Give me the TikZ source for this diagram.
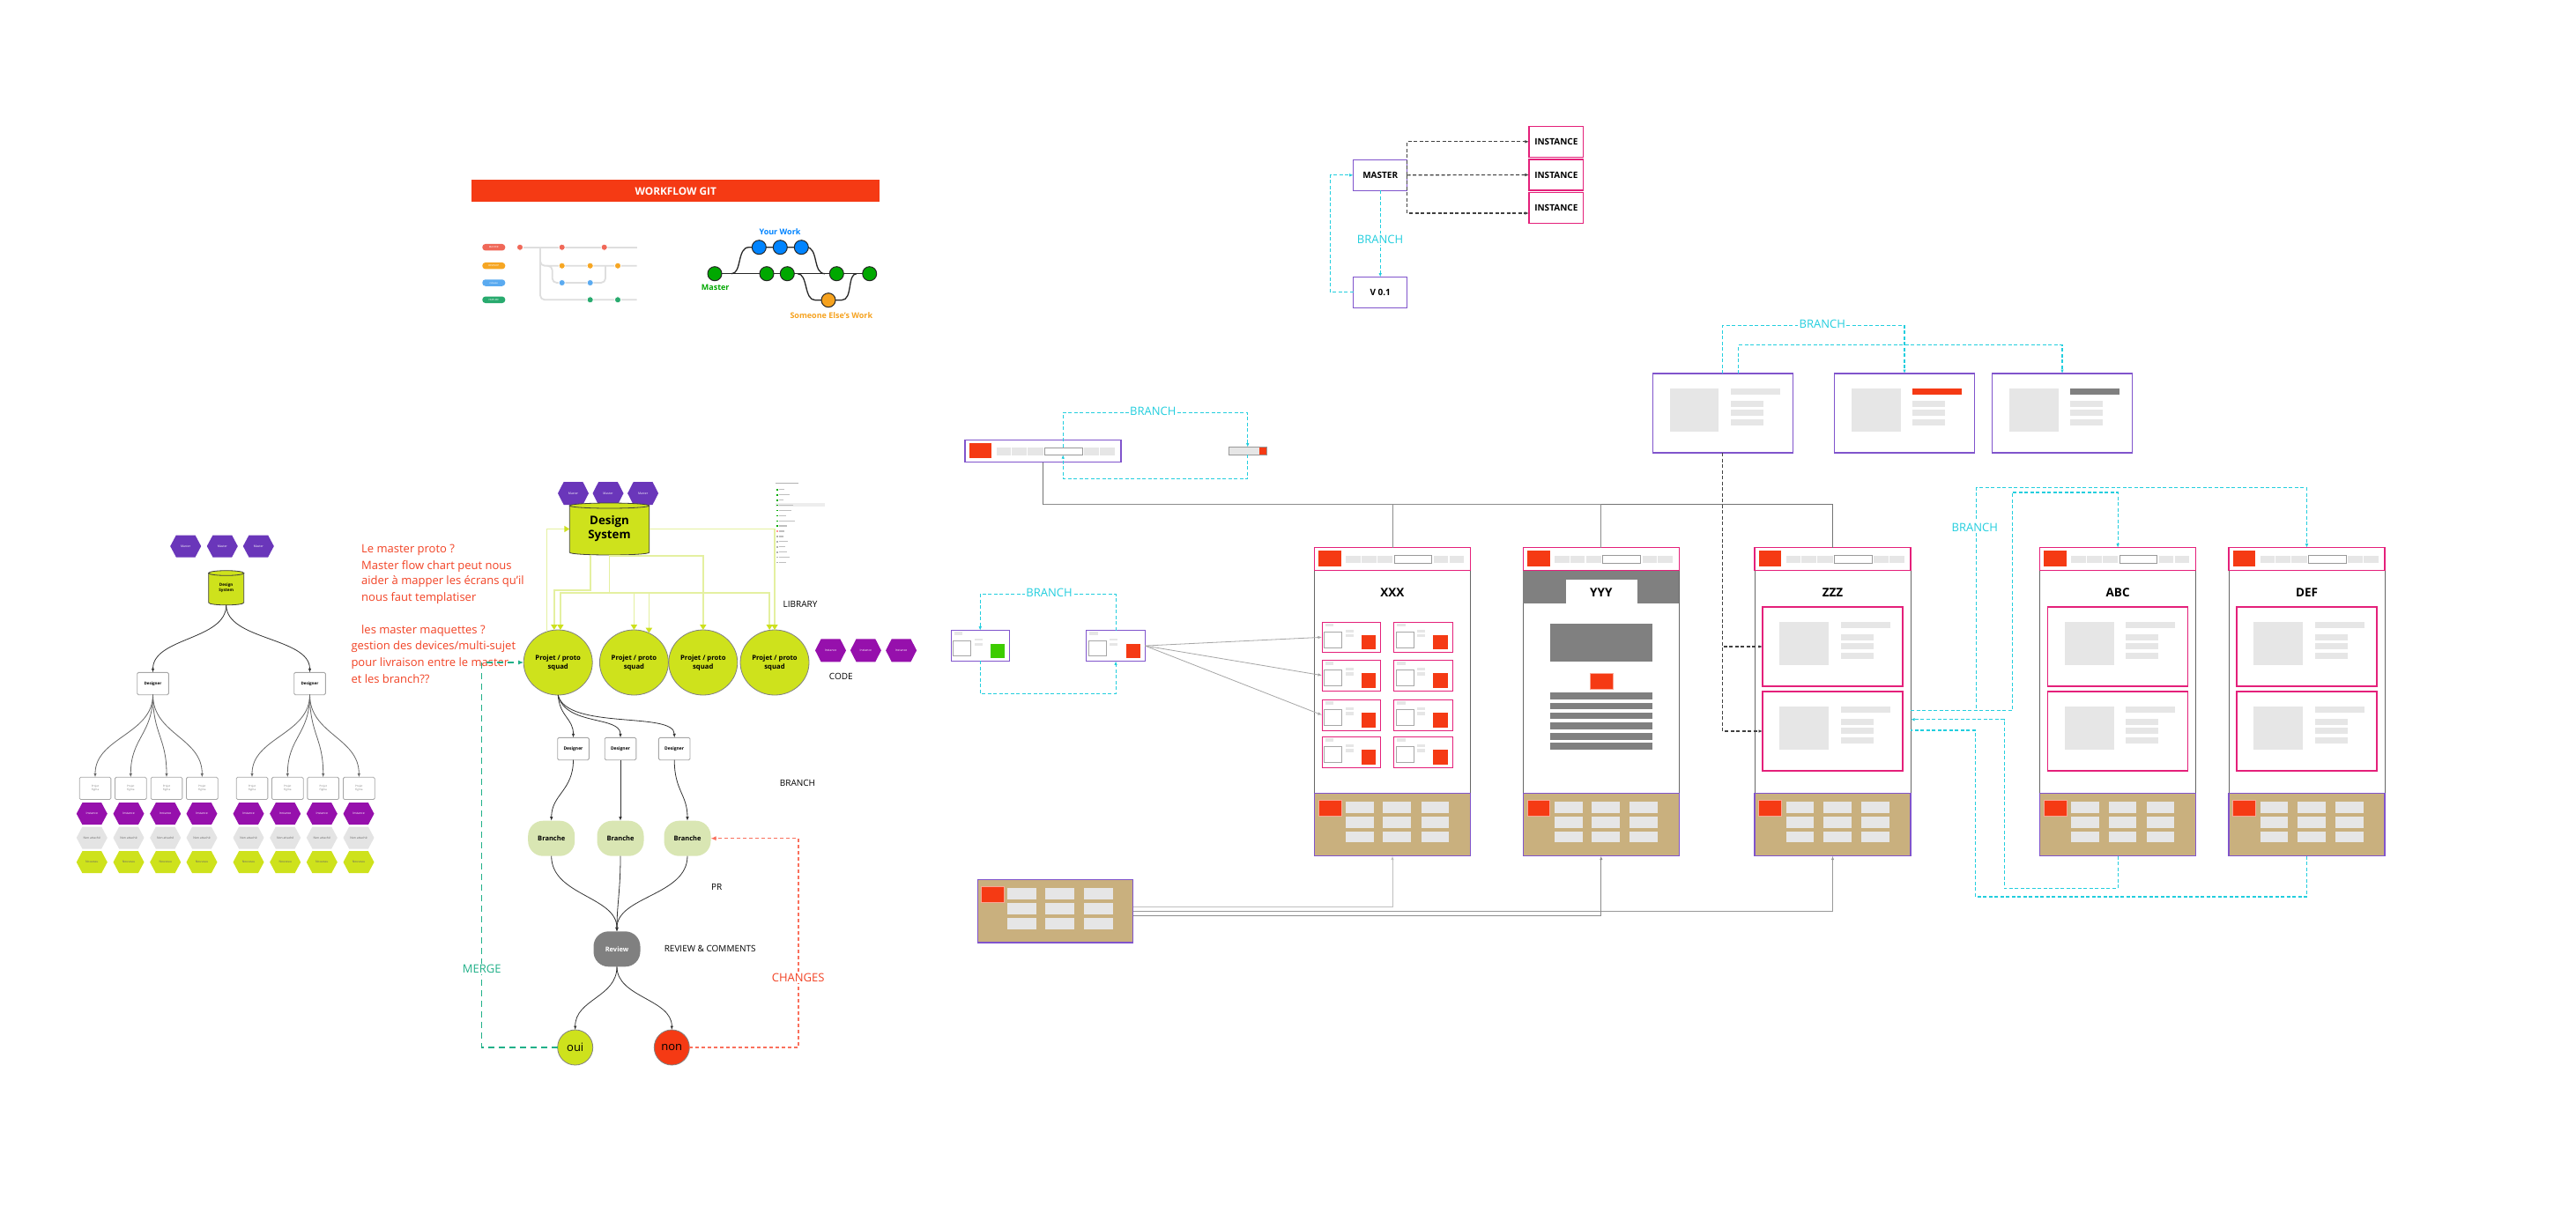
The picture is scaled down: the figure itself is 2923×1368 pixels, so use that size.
\documentclass[tikz,border=0pt]{standalone}
\usepackage{fontspec}
\setmainfont{Open Sans}
\usetikzlibrary{arrows.meta,shapes.geometric,calc}
\definecolor{dsg}{RGB}{206,226,28}
\definecolor{hexa}{RGB}{106,54,186}
\definecolor{hexb}{RGB}{150,16,172}
\definecolor{hexg}{RGB}{228,228,228}
\definecolor{redc}{RGB}{245,58,20}
\definecolor{redtxt}{RGB}{242,66,36}
\definecolor{cyanl}{RGB}{34,206,222}
\definecolor{mergeg}{RGB}{32,176,136}
\definecolor{changer}{RGB}{250,112,92}
\definecolor{pinkc}{RGB}{228,32,122}
\definecolor{purpc}{RGB}{128,84,204}
\definecolor{tanc}{RGB}{201,176,126}
\definecolor{lgc}{RGB}{230,230,230}
\definecolor{dgc}{RGB}{128,128,128}
\definecolor{brg}{RGB}{217,230,179}
\definecolor{lineg}{RGB}{228,240,160}
\definecolor{arrg}{RGB}{205,225,30}
\definecolor{gitgray}{RGB}{222,222,222}
\definecolor{gred}{RGB}{240,104,88}
\definecolor{gorange}{RGB}{246,166,35}
\definecolor{gblue}{RGB}{90,170,240}
\definecolor{ggreen}{RGB}{40,170,110}
\definecolor{mgreen}{RGB}{0,168,0}
\definecolor{mblue}{RGB}{0,132,255}
\definecolor{morange}{RGB}{246,162,30}
\definecolor{libg}{RGB}{0,170,0}
\definecolor{libp}{RGB}{255,150,150}
\definecolor{libk}{RGB}{175,175,175}

\newcommand\fsz[2]{\fontsize{#1}{#2}\selectfont}
% hexagon: name, x, y, w, h, fill, text
\newcommand\hexshape[7]{%
  \fill[#6] ({#2-#4/2},#3) -- ({#2-0.31*#4},{#3-#5/2}) -- ({#2+0.31*#4},{#3-#5/2}) -- ({#2+#4/2},#3) -- ({#2+0.31*#4},{#3+#5/2}) -- ({#2-0.31*#4},{#3+#5/2}) -- cycle;
  \node[hextxt] (#1) at (#2,#3) {#7};}
% cylinder: name, cx, top, bot, hw, ry, fontsize, skip, text
\newcommand\cylshape[9]{%
  \filldraw[fill=dsg, draw=black!75, line width=0.8pt] ({#2-#5},#3) -- ({#2-#5},#4) .. controls ({#2-#5},{#4+1.33*#6}) and ({#2+#5},{#4+1.33*#6}) .. ({#2+#5},#4) -- ({#2+#5},#3) -- cycle;
  \filldraw[fill=dsg, draw=black!75, line width=0.8pt] (#2,#3) ellipse [x radius=#5, y radius=#6];
  \node[inner sep=0, outer sep=0, minimum width={2*#5}, minimum height={#4-#3+2*#6}, font=\bfseries\fsz{#7}{#8}, align=center] (#1) at (#2,{(#3+#4)/2}) {#9};}
% screen header strip: x0, y0, border colour
\newcommand\hdr[3]{%
  \filldraw[fill=white, draw=#3, line width=1.1pt] (#1,#2) rectangle ++(177,25.6);
  \fill[redc] ({#1+4.7},{#2+3.6}) rectangle ++(25.7,17.4);
  \fill[lgc] ({#1+35.6},{#2+9}) rectangle ++(16.6,8.3);
  \fill[lgc] ({#1+53.4},{#2+9}) rectangle ++(16.6,8.3);
  \fill[lgc] ({#1+71.2},{#2+9}) rectangle ++(17.6,8.3);
  \filldraw[fill=white, draw=black!40, line width=0.9pt] ({#1+90.5},{#2+9}) rectangle ++(42.7,8.3);
  \fill[lgc] ({#1+135.2},{#2+9}) rectangle ++(16.6,8.3);
  \fill[lgc] ({#1+153},{#2+9}) rectangle ++(16.6,8.3);}
% screen footer: x0, y0
\newcommand\ftr[2]{%
  \filldraw[fill=tanc, draw=purpc, line width=1.1pt] (#1,#2) rectangle ++(177,71);
  \filldraw[fill=redc, draw=redc!45, line width=0.6pt] ({#1+4.7},{#2+8}) rectangle ++(25.7,18);
  \foreach \ddx in {35.6,77.9,121}{\foreach \ddy in {9.6,26.6,43.3}{\fill[lgc] ({#1+\ddx},{#2+\ddy}) rectangle ++(31.6,12.3);}}}
% screen: name, x0
\newcommand\screen[2]{%
  \node[draw=black!60, line width=0.9pt, fill=white, minimum width=177pt, minimum height=350pt, inner sep=0, outer sep=0, anchor=north west] (#1) at (#2,621.7) {};}
% big card: name, x, y, border, bar colour
\newcommand\bcard[5]{%
  \node[draw=#4, line width=1.1pt, fill=white, minimum width=159pt, minimum height=90pt, inner sep=0, outer sep=0, anchor=north west] (#1) at (#2,#3) {};
  \fill[lgc] ({#2+19.3},{#3+17}) rectangle ++(55.7,49);
  \fill[#5] ({#2+88.7},{#3+16.7}) rectangle ++(56,7.3);
  \fill[lgc] ({#2+88.7},{#3+30.7}) rectangle ++(37,7);
  \fill[lgc] ({#2+88.7},{#3+40.7}) rectangle ++(37,7);
  \fill[lgc] ({#2+88.7},{#3+52.3}) rectangle ++(37,6.7);}
% mini card: name, x, y, border, square colour
\newcommand\mcard[5]{%
  \node[draw=#4, line width=1pt, fill=white, minimum width=66.5pt, minimum height=34.7pt, inner sep=0, outer sep=0, anchor=north west] (#1) at (#2,#3) {};
  \fill[lgc] ({#2+3.6},{#3+1.7}) rectangle ++(9.4,3.6);
  \filldraw[fill=white, draw=black!35, line width=1pt] ({#2+2.8},{#3+11.3}) rectangle ++(19.7,17.7);
  \fill[lgc] ({#2+26.5},{#3+9}) rectangle ++(9,2.7);
  \fill[lgc] ({#2+26.5},{#3+14}) rectangle ++(9,3.3);
  \fill[#5] ({#2+44.7},{#3+15}) rectangle ++(16.6,16.3);}

\tikzset{
  hextxt/.style={inner sep=0, text=white, font=\fsz{3.4}{4}},
  conn/.style={draw=black!80, line width=0.8pt},
  arr/.style={-{Latex[length=4.5pt,width=3.5pt]}},
  box/.style={draw=black!35, line width=0.8pt, fill=white, rounded corners=1.5pt, minimum width=35.7pt, minimum height=25.3pt, inner sep=0, outer sep=0},
  cyandash/.style={draw=cyanl, line width=1.1pt, dash pattern=on 4pt off 2.5pt},
  bdash/.style={draw=black!75, line width=1.1pt, dash pattern=on 4pt off 2.5pt},
  lgl/.style={draw=lineg, line width=1.6pt, -{Triangle[length=6pt,width=7pt,color=arrg]}},
  cyanlab/.style={text=cyanl, fill=white, font=\fsz{13}{15}, inner sep=1.5pt},
  plab/.style={font=\fsz{10}{12}, inner sep=0},
  mbox/.style={draw=purpc, line width=1.1pt, fill=white, minimum width=61pt, minimum height=34.5pt, inner sep=0, outer sep=0, font=\bfseries\fsz{10}{12}},
  ibox/.style={draw=pinkc, line width=1.1pt, fill=white, minimum width=61.7pt, minimum height=35pt, inner sep=0, outer sep=0, font=\bfseries\fsz{10}{12}},
  pcirc/.style={ellipse, draw=black!50, line width=0.8pt, fill=dsg, minimum width=78pt, minimum height=74pt, inner sep=0, outer sep=0, font=\bfseries\fsz{7.7}{10}, align=center},
  brbox/.style={fill=brg, rounded corners=17pt, minimum width=53pt, minimum height=40pt, inner sep=0, outer sep=0, font=\bfseries\fsz{7.5}{9}},
  okc/.style={circle, draw=black!50, line width=0.8pt, minimum size=40pt, inner sep=0, outer sep=0, font=\fsz{13}{15}},
  pill/.style={rounded corners=3.5pt, minimum width=26pt, minimum height=7.5pt, inner sep=0, text=white, font=\fsz{2.8}{3}},
  gtitle/.style={font=\bfseries\fsz{13.5}{15}, inner sep=0}
}

\begin{document}
\begin{tikzpicture}[x=1pt,y=-1pt]
\useasboundingbox (0,0) rectangle (2923,1368);
\fill[white] (0,0) rectangle (2923,1368);

%% ================= LEFT TREE
\hexshape{th1}{210.7}{620}{35}{25}{hexa}{Master}
\hexshape{th2}{252.3}{620}{35}{25}{hexa}{Master}
\hexshape{th3}{293.3}{620}{35}{25}{hexa}{Master}
\cylshape{tdst}{256.7}{650.5}{684}{20}{2.8}{4.6}{5.4}{Design\\System}
\node[box, font=\bfseries\fsz{4.5}{5}] (td1) at (173.5,776) {Designer};
\node[box, font=\bfseries\fsz{4.5}{5}] (td2) at (351.5,776) {Designer};
\foreach \x [count=\k] in {108,148.3,189,229.3,286,326.3,366.7,407.3}
  \node[box, font=\fsz{3}{3.6}, text=black!50, align=center] (tp\k) at (\x,894.9) {Projet\\Figma};
\foreach \x [count=\k] in {104.3,146,187.7,229,282,323.7,365.3,407}{
  \hexshape{ti\k}{\x}{923.7}{35}{25}{hexb}{Instance}
  \hexshape{tn\k}{\x}{951}{35}{25}{hexg}{\color{black!60}Non attaché}
  \hexshape{tv\k}{\x}{978.7}{35}{25}{dsg}{\color{black!60}Nouveau}
}
\draw[conn,arr] (tdst.south) .. controls +(0,40) and +(0,-40) .. (td1.north);
\draw[conn,arr] (tdst.south) .. controls +(0,40) and +(0,-40) .. (td2.north);
\foreach \k in {1,2,3,4} \draw[conn,arr,draw=black!60] (td1.south) .. controls +(0,45) and +(0,-45) .. (tp\k.north);
\foreach \k in {5,6,7,8} \draw[conn,arr,draw=black!60] (td2.south) .. controls +(0,45) and +(0,-45) .. (tp\k.north);

%% red note
\begin{scope}[every node/.style={anchor=west, text=redtxt, font=\fsz{13}{15}, inner sep=0}]
\node (n1) at (410,624.3) {Le master proto ?};
\node (n2) at (410,642.7) {Master flow chart peut nous};
\node (n3) at (410,660.3) {aider à mapper les écrans qu'il};
\node (n4) at (410,679.3) {nous faut templatiser};
\node (n5) at (410,716) {les master maquettes ?};
\node (n6) at (398.3,734) {gestion des devices/multi-sujet};
\node (n7) at (398.3,752.7) {pour livraison entre le master};
\node (n8) at (398.3,771) {et les branch??};
\end{scope}

%% ================= WORKFLOW GIT
\node[fill=redc, minimum width=463.3pt, minimum height=25pt, inner sep=0, text=white, font=\bfseries\fsz{11.8}{13}] (wf) at (766.7,216.8) {WORKFLOW GIT};
\node[pill, fill=gred] (pm) at (560.3,280.7) {MASTER};
\node[pill, fill=gorange] (pd) at (560.3,301.7) {DEVELOP};
\node[pill, fill=gblue] (pr) at (560.3,321) {release};
\node[pill, fill=ggreen] (pf) at (560.3,340.3) {FEATURE};
\draw[gitgray, line width=1.8pt] (590,280.7) -- (722.7,280.7);
\draw[gitgray, line width=1.8pt, rounded corners=5pt] (613,280.7) -- (613,340.3) -- (722.7,340.3);
\draw[gitgray, line width=1.8pt, rounded corners=5pt] (613,290) -- (613,301.7) -- (722.7,301.7);
\draw[gitgray, line width=1.8pt, rounded corners=5pt] (622,301.7) -- (626.7,301.7) -- (626.7,321) -- (687,321) -- (687,301.7);
\foreach \x in {590,637.7,685.7} \filldraw[fill=gred, draw=white, line width=0.8pt] (\x,280.7) circle (3.6);
\foreach \x in {637.7,669.7,701} \filldraw[fill=gorange, draw=white, line width=0.8pt] (\x,301.7) circle (3.6);
\foreach \x in {637.7,669.7} \filldraw[fill=gblue, draw=white, line width=0.8pt] (\x,321) circle (3.6);
\foreach \x in {669.7,701} \filldraw[fill=ggreen, draw=white, line width=0.8pt] (\x,340.3) circle (3.6);
% right graph
\draw[black!85, line width=1.3pt] (811,310.7) -- (986.7,310.7);
\draw[black!85, line width=1.3pt] (830,310.7) .. controls (842,310.7) and (836,280.7) .. (850,280.7) -- (915,280.7) .. controls (929,280.7) and (922,310.7) .. (936,310.7);
\draw[black!85, line width=1.3pt] (905,310.7) .. controls (917,310.7) and (912,340.7) .. (925,340.7) -- (955,340.7) .. controls (968,340.7) and (961,310.7) .. (972,310.7);
\foreach \x in {811,870,893.3,949.3,986.7} \filldraw[fill=mgreen, draw=black!85, line width=1pt] (\x,310.7) circle (8);
\foreach \x in {861.3,885.3,909.3} \filldraw[fill=mblue, draw=black!85, line width=1pt] (\x,280.7) circle (8);
\filldraw[fill=morange, draw=black!85, line width=1pt] (940,340.7) circle (8);
\node[font=\bfseries\fsz{9}{10}, text=mblue, inner sep=0] (yw) at (885,262.7) {Your Work};
\node[font=\bfseries\fsz{9}{10}, text=mgreen, inner sep=0] (mw) at (811.7,326.7) {Master};
\node[font=\bfseries\fsz{9}{10}, text=morange, inner sep=0] (sw) at (943.3,357.7) {Someone Else's Work};

%% ================= DESIGN SYSTEM CENTRE
\hexshape{dh1}{650.5}{560}{35}{26}{hexa}{Master}
\hexshape{dh2}{690}{560}{35}{26}{hexa}{Master}
\hexshape{dh3}{729.6}{560}{35}{26}{hexa}{Master}
\cylshape{ds}{691.5}{574}{627}{45.25}{3}{13.3}{16}{Design\\System}
\node[pcirc] (p1) at (633.2,752) {Projet / proto\\squad};
\node[pcirc] (p2) at (719.4,752) {Projet / proto\\squad};
\node[pcirc] (p3) at (797.8,752) {Projet / proto\\squad};
\node[pcirc] (p4) at (879,752) {Projet / proto\\squad};
% library picture
\fill[black!30] (880,548) rectangle (906,549.2);
\fill[lgc!70] (880,571.3) rectangle (935.7,575.3);
\foreach \yy/\cc/\ww in {555.7/libg/6,561.7/libg/12,567.7/libg/5,573.3/libg/16,579.3/libg/14,585.3/libg/8,591.3/libg/18,597/libg/9,603/libp/6,609/libk/5,614.7/libk/10,620.7/libk/7,626.7/libk/9,632.3/libk/12,638.3/libk/8}{
  \fill[\cc] (881,\yy-0.8) rectangle ++(1.6,1.6);
  \fill[black!25] (884,\yy-0.6) rectangle ++(\ww,1.2);}
% light green links
\draw[lgl] (p1.110) |- (ds.west);
\draw[lgl] (ds.east) -| (p4.north);
\draw[lgl] ([xshift=-21.8pt]ds.south) -- ++(0,40) -| ([xshift=-4.4pt]p1.north);
\draw[lgl] (ds.south) -- ++(0,43) coordinate (l4) -| ([xshift=2.7pt]p1.north);
\draw[lgl] (l4) -| (p2.north);
\draw[lgl] (l4) -| (p2.63);
\draw[lgl] (l4) -| ([xshift=-5.8pt]p4.north);
\draw[lgl] ([yshift=-1pt]ds.south) -| (p3.north);
\node[plab] (lib) at (908,686) {LIBRARY};
\hexshape{ch1}{942.5}{738.3}{35}{26}{hexb}{Instance}
\hexshape{ch2}{982.4}{738.3}{35}{26}{hexb}{Instance}
\hexshape{ch3}{1022.6}{738.3}{35}{26}{hexb}{Instance}
\node[plab] (code) at (954.3,768.3) {CODE};

%% lower flow
\node[box, font=\bfseries\fsz{5}{6}] (d1) at (650.5,850) {Designer};
\node[box, font=\bfseries\fsz{5}{6}] (d2) at (704,850) {Designer};
\node[box, font=\bfseries\fsz{5}{6}] (d3) at (765.2,850) {Designer};
\draw[conn,arr] (p1.south) .. controls +(2,25) and +(0,-22) .. (d1.north);
\draw[conn,arr] (p1.south) .. controls +(8,35) and +(0,-25) .. (d2.north);
\draw[conn,arr] (p1.south) .. controls +(10,40) and +(0,-30) .. (d3.north);
\node[brbox] (b1) at (625.7,951.7) {Branche};
\node[brbox] (b2) at (704,951.7) {Branche};
\node[brbox] (b3) at (780,951.7) {Branche};
\draw[conn,arr] (d1.south) .. controls +(0,35) and +(0,-30) .. (b1.north);
\draw[conn,arr] (d2.south) -- (b2.north);
\draw[conn,arr] (d3.south) .. controls +(0,35) and +(0,-30) .. (b3.north);
\node[brbox, fill=dgc, text=white] (rev) at (700,1077.3) {Review};
\draw[conn,arr] (b1.south) .. controls +(0,45) and +(0,-40) .. (rev.north);
\draw[conn,arr] (b2.south) .. controls +(0,40) and +(0,-30) .. (rev.north);
\draw[conn,arr] (b3.south) .. controls +(0,45) and +(0,-40) .. (rev.north);
\node[okc, fill=dsg] (oui) at (652.7,1189) {oui};
\node[okc, fill=redc] (non) at (762.3,1189) {non};
\draw[conn,arr] (rev.south) .. controls +(0,35) and +(0,-35) .. (oui.north);
\draw[conn,arr] (rev.south) .. controls +(0,35) and +(0,-35) .. (non.north);
\draw[draw=mergeg, line width=1.4pt, dash pattern=on 7pt off 5pt, -{Latex[length=6pt,width=5pt]}] (oui.west) -- ++(-86,0) |- (p1.west);
\draw[draw=changer, line width=1.2pt, dash pattern=on 4pt off 3pt, -{Latex[length=6pt,width=5pt]}] (non.east) -- ++(123.7,0) |- (b3.east);
\node[text=mergeg, fill=white, font=\fsz{13}{15}, inner sep=1pt] (mergel) at (546.7,1100) {MERGE};
\node[text=redtxt, fill=white, font=\fsz{13}{15}, inner sep=1pt] (chgl) at (905.7,1110) {CHANGES};
\node[plab] (brl2) at (905,889.3) {BRANCH};
\node[plab] (prl) at (813.3,1007.3) {PR};
\node[plab] (rcl) at (805.7,1077.3) {REVIEW \& COMMENTS};

%% ================= MASTER / INSTANCES
\node[mbox] (master) at (1566.2,198.8) {MASTER};
\node[mbox] (v01) at (1566.2,331.8) {V 0.1};
\node[ibox] (inst1) at (1765.8,160.8) {INSTANCE};
\node[ibox] (inst2) at (1765.8,198.5) {INSTANCE};
\node[ibox] (inst3) at (1765.8,236) {INSTANCE};
\draw[bdash,arr] (master.east) -- (inst2.west);
\draw[bdash,arr] (master.east) |- (inst1.west);
\draw[bdash,arr] (master.east) |- ([yshift=-6pt]inst3.west);
\draw[cyandash,arr] (master.south) -- (v01.north);
\node[cyanlab] (brm) at (1566,271.7) {BRANCH};
\draw[cyandash,arr] (v01.west) -- ++(-26,0) |- (master.west);

%% ================= HEADER BAR + BRANCH
\node[minimum width=177pt, minimum height=25.6pt, inner sep=0, outer sep=0, anchor=north west] (hdrn) at (1095,499.3) {};
\hdr{1095}{499.3}{purpc}
\node[minimum width=42.7pt, minimum height=8.3pt, inner sep=0, outer sep=0] (hdrbox) at (1206.2,512) {};
\node[draw=black!40, fill=lgc, line width=1pt, minimum width=43.3pt, minimum height=8.6pt, inner sep=0, outer sep=0] (sbar) at (1415.7,512) {};
\fill[redc] (1429,508.2) rectangle (1437,515.8);
\draw[cyandash,arr] (hdrbox.north) -- ++(0,-39.4) -| (sbar.north);
\draw[cyandash,arr] (sbar.south) -- ++(0,27.3) -| (hdrbox.south);
\node[cyanlab] (brt) at (1308.3,466.7) {BRANCH};

%% ================= SCREENS
\screen{XXX}{1491.5}
\screen{YYY}{1728.3}
\screen{ZZZ}{1991}
\screen{ABC}{2314.6}
\screen{DEF}{2529}
% YYY content
\fill[dgc] (1728.3,647.3) rectangle (1905.3,685);
\fill[white] (1776.7,657.7) rectangle (1857.7,685);
\fill[dgc] (1759,708) rectangle (1875.3,751.3);
\filldraw[fill=redc, draw=redc!45] (1803.7,764.3) rectangle (1830.3,782.3);
\foreach \yy in {786.3,797.7,808.7,820,832,843.3} \fill[dgc] (1759,\yy) rectangle (1875.3,\yy+7.7);
\foreach \xx in {1491.5,1728.3,1991,2314.6,2529}{\hdr{\xx}{621.7}{pinkc}\ftr{\xx}{900.7}}
\node[gtitle] (tx) at (1579.8,672.5) {XXX};
\node[gtitle] (ty) at (1816.8,672.5) {YYY};
\node[gtitle] (tz) at (2079.5,672.5) {ZZZ};
\node[gtitle] (ta) at (2403.1,672.5) {ABC};
\node[gtitle] (tdf) at (2617.5,672.5) {DEF};
% XXX minicards
\mcard{mc11}{1500}{706}{pinkc}{redc}
\mcard{mc12}{1581.5}{706}{pinkc}{redc}
\mcard{mc21}{1500}{749.3}{pinkc}{redc}
\mcard{mc22}{1581.5}{749.3}{pinkc}{redc}
\mcard{mc31}{1500}{794.3}{pinkc}{redc}
\mcard{mc32}{1581.5}{794.3}{pinkc}{redc}
\mcard{mc41}{1500}{836.3}{pinkc}{redc}
\mcard{mc42}{1581.5}{836.3}{pinkc}{redc}
% ZZZ / ABC / DEF cards
\bcard{zc1}{2000}{689}{pinkc}{lgc}
\bcard{zc2}{2000}{785}{pinkc}{lgc}
\bcard{ac1}{2323.6}{689}{pinkc}{lgc}
\bcard{ac2}{2323.6}{785}{pinkc}{lgc}
\bcard{dc1}{2538}{689}{pinkc}{lgc}
\bcard{dc2}{2538}{785}{pinkc}{lgc}

% solid links from header bar
\draw[draw=black!55, line width=0.8pt] (hdrn.south) -- ++(0,47) coordinate (hj) -| (ZZZ.north);
\draw[draw=black!45, line width=0.8pt] (hj) -| (XXX.north);
\draw[draw=black!45, line width=0.8pt] (hj) -| (YYY.north);

%% ================= LEFT SMALL CARDS
\mcard{card1}{1079}{715.7}{purpc}{green!60!lime!80!black}
\mcard{card2}{1232.8}{715.7}{purpc}{redc}
\draw[cyandash,arr] (card2.north) -- ++(0,-41.4) -| (card1.north);
\draw[cyandash,arr] (card1.south) -- ++(0,37) -| (card2.south);
\node[cyanlab] (brc) at (1190.5,673.3) {BRANCH};
\draw[draw=black!35, line width=0.8pt, arr] (card2.east) -- (mc11.west);
\draw[draw=black!35, line width=0.8pt, arr] (card2.east) -- (mc21.west);
\draw[draw=black!35, line width=0.8pt, arr] (card2.east) -- (mc31.west);

%% ================= BOTTOM CARD
\node[draw=purpc, fill=tanc, line width=1.1pt, minimum width=176pt, minimum height=71.7pt, inner sep=0, outer sep=0, anchor=north west] (bcardn) at (1109.6,998.3) {};
\filldraw[fill=redc, draw=redc!45, line width=0.6pt] (1112.8,1006.7) rectangle (1139.6,1024.7);
\foreach \xx in {1143.4,1186,1229.5}{\foreach \yy in {1008.3,1025,1042}{\fill[lgc] (\xx,\yy) rectangle ++(33,12.5);}}
\draw[draw=black!25, line width=0.8pt, arr] ([yshift=5pt]bcardn.east) -| (XXX.south);
\draw[draw=black!40, line width=0.8pt, arr] (bcardn.east) -| (ZZZ.south);
\draw[draw=black!45, line width=0.8pt, arr] ([yshift=-5pt]bcardn.east) -| (YYY.south);

%% ================= TOP RIGHT GROUP
\bcard{top1}{1875.4}{424}{purpc}{lgc}
\bcard{top2}{2081.5}{424}{purpc}{redc}
\bcard{top3}{2260.5}{424}{purpc}{dgc}
\draw[cyandash,arr] (top1.north) -- ++(0,-54.7) -| (top2.north);
\draw[cyandash,arr] ([xshift=18pt]top1.north) -- ++(0,-32.3) -| (top3.north);
\node[cyanlab] (brtr) at (2067.8,367.7) {BRANCH};
\draw[bdash,arr] (top1.south) |- (zc1.west);
\draw[bdash,arr] (top1.south) |- (zc2.west);

%% ================= ABC / DEF BRANCH LINKS
\draw[cyandash,arr] ([yshift=-10pt]ZZZ.east) -- ++(115.1,0) -- ++(0,-247.7) -| (ABC.north);
\draw[cyandash,arr] ([yshift=-10pt]ZZZ.east) -- ++(74.9,0) -- ++(0,-253.1) -| (DEF.north);
\draw[cyandash,arr] (ABC.south) -- ++(0,36.8) -- ++(-129,0) |- ([yshift=-20pt]ZZZ.east);
\draw[cyandash] (DEF.south) -- ++(0,46.3) -- ++(-376,0) |- ([yshift=-32.3pt]ZZZ.east);
\node[cyanlab] (brad) at (2240.7,598.4) {BRANCH};

\end{tikzpicture}
\end{document}
